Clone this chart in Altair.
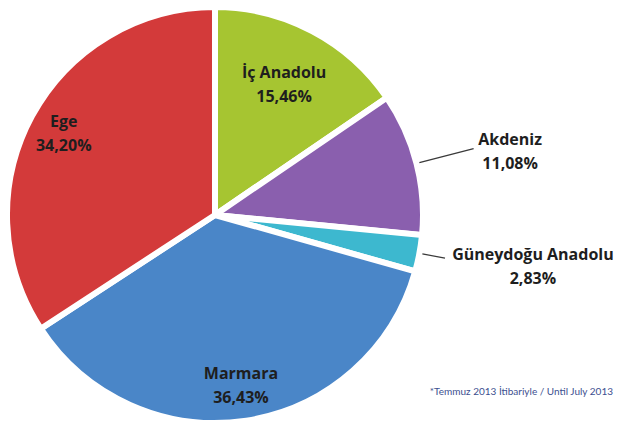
import altair as alt
import pandas as pd

regions = ["İç Anadolu", "Akdeniz", "Güneydoğu Anadolu", "Marmara", "Ege"]
shares = [15.46, 11.08, 2.83, 36.43, 34.20]
colors = ["#a6c531", "#8a5fae", "#3db8cf", "#4a86c8", "#d33a3a"]
footnote = "*Temmuz 2013 İtibariyle / Until July 2013"

df = pd.DataFrame({
    "region": regions,
    "share": shares,
    "order": list(range(len(regions))),
    "label": [r + "\n" + f"{s:.2f}".replace(".", ",") + "%" for r, s in zip(regions, shares)],
})

FONT = "Open Sans"
TXT = "#1e1e1e"
theta_scale = alt.Scale(domain=[0, 100])

base = (
    alt.Chart(df)
    .transform_window(cum="sum(share)", sort=[alt.SortField("order")], frame=[None, 0])
    .transform_calculate(start="datum.cum - datum.share", mid="datum.cum - datum.share / 2")
)

pie = base.mark_arc(outerRadius=208, stroke="white", strokeWidth=6).encode(
    theta=alt.Theta("start:Q", scale=theta_scale, stack=None),
    theta2="cum:Q",
    color=alt.Color("region:N", scale=alt.Scale(domain=regions, range=colors), legend=None),
)

leaders = (
    base.transform_filter("datum.share < 12")
    .transform_calculate(lead="datum.share < 5 ? 234 : 267")
    .mark_arc(innerRadius=211, stroke="#3a3a3a", strokeWidth=1.3, fill="transparent")
    .encode(
        theta=alt.Theta("mid:Q", scale=theta_scale, stack=None),
        theta2="mid:Q",
        radius=alt.Radius("lead:Q", scale=None),
    )
)

inner = (
    base.transform_filter("datum.share >= 12")
    .transform_calculate(r="datum.share < 20 ? 148 : 172")
    .mark_text(font=FONT, fontSize=16, fontWeight="bold", lineBreak="\n", lineHeight=24,
               color=TXT, align="center", baseline="middle", dy=-11)
    .encode(
        theta=alt.Theta("mid:Q", scale=theta_scale, stack=None),
        radius=alt.Radius("r:Q", scale=None),
        text="label:N",
    )
)

outer = (
    base.transform_filter("datum.share < 12")
    .transform_calculate(
        labmid="datum.mid + (datum.share < 5 ? -0.42 : 0.6)",
        r="datum.share < 5 ? 322 : 302",
    )
    .mark_text(font=FONT, fontSize=16, fontWeight="bold", lineBreak="\n", lineHeight=24,
               color=TXT, align="center", baseline="middle", dy=-11)
    .encode(
        theta=alt.Theta("labmid:Q", scale=theta_scale, stack=None),
        radius=alt.Radius("r:Q", scale=None),
        text="label:N",
    )
)

foot = (
    alt.Chart(pd.DataFrame({"t": [footnote]}))
    .mark_text(font="Lato", fontSize=10, color="#3c4f8f", align="right", baseline="middle")
    .encode(x=alt.value(605), y=alt.value(375), text="t:N")
)

chart = (
    alt.layer(pie, leaders, inner, outer, foot)
    .properties(
        width=414,
        height=396,
        autosize=alt.AutoSizeParams(type="none"),
        padding={"left": 0, "top": 9, "right": 192, "bottom": 10},
    )
    .configure_view(stroke=None)
)

chart.save("out.html", embed_options={"renderer": "svg", "actions": False})
